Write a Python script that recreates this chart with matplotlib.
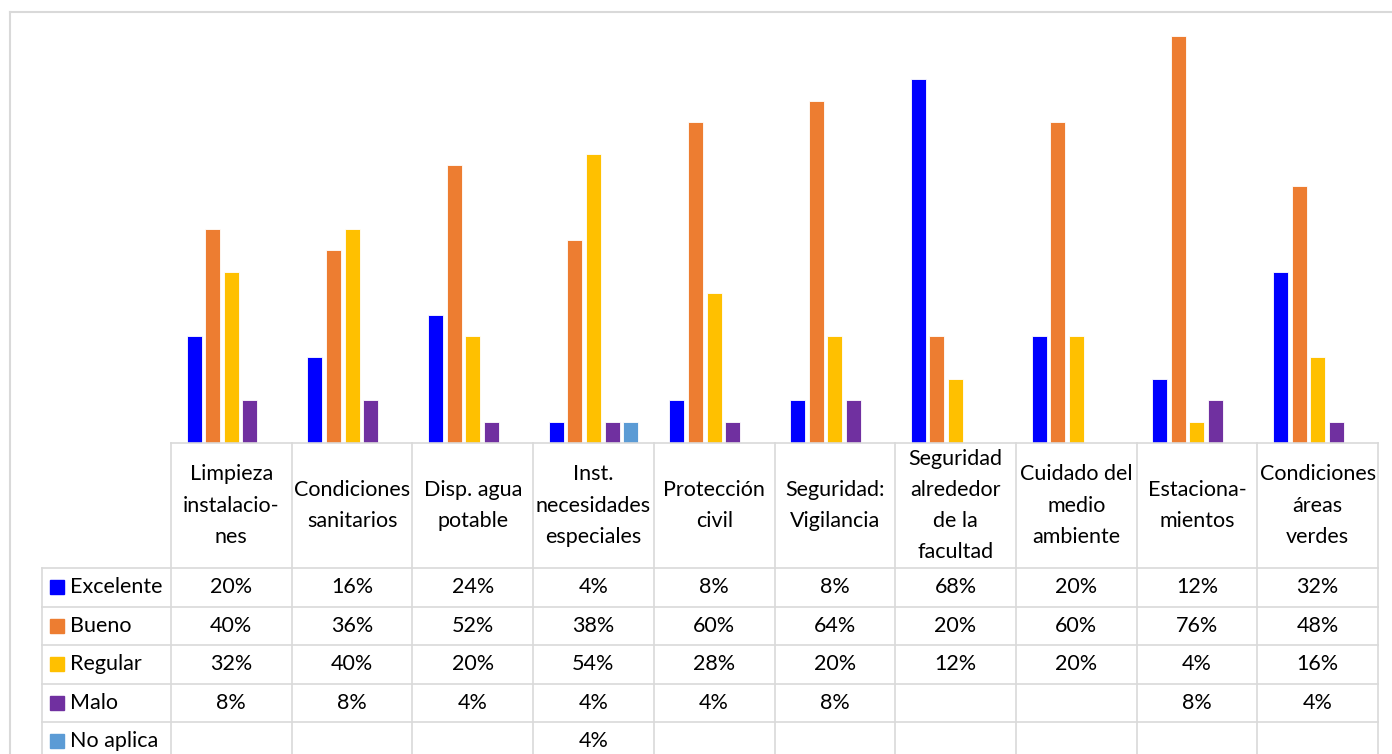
import matplotlib
matplotlib.use('Agg')
import matplotlib.pyplot as plt
from matplotlib.patches import Rectangle
from matplotlib.lines import Line2D

plt.rcParams['font.family'] = ['Lato', 'DejaVu Sans']

# categories (header of the data table)
categories = ["Limpieza\ninstalacio-\nnes", "Condiciones\nsanitarios", "Disp. agua\npotable",
              "Inst.\nnecesidades\nespeciales", "Protección\ncivil", "Seguridad:\nVigilancia",
              "Seguridad\nalrededor\nde la\nfacultad", "Cuidado del\nmedio\nambiente",
              "Estaciona-\nmientos", "Condiciones\náreas\nverdes"]

series_names = ["Excelente", "Bueno", "Regular", "Malo", "No aplica"]
excelente = [20, 16, 24, 4, 8, 8, 68, 20, 12, 32]
bueno = [40, 36, 52, 38, 60, 64, 20, 60, 76, 48]
regular = [32, 40, 20, 54, 28, 20, 12, 20, 4, 16]
malo = [8, 8, 4, 4, 4, 8, None, None, 8, 4]
no_aplica = [None, None, None, 4, None, None, None, None, None, None]
series = [excelente, bueno, regular, malo, no_aplica]
colors = ["#0000FF", "#ED7D31", "#FFC000", "#7030A0", "#5B9BD5"]

W, H = 1392, 754
grid_col = "#D9D9D9"
fig = plt.figure(figsize=(W / 100, H / 100), dpi=100)

# pixel layout
plot_left, plot_right = 171, 1378
base_y, top_y = 443, 15
label_left = 42
ncat = len(categories)
colw = (plot_right - plot_left) / ncat

# ---- bar chart ----
ax = fig.add_axes([plot_left / W, (H - base_y) / H,
                   (plot_right - plot_left) / W, (base_y - top_y) / H])
step, bw = 0.154, 0.124
for k, (vals, c) in enumerate(zip(series, colors)):
    xs = [i + (k - 2) * step for i, v in enumerate(vals) if v is not None]
    hs = [v / 100 for v in vals if v is not None]
    ax.bar(xs, hs, width=bw, color=c, edgecolor='white', linewidth=0.6)
ax.set_xlim(-0.5, ncat - 0.5)
ax.set_ylim(0, 0.80)
ax.axis('off')

# ---- data table ----
tab = fig.add_axes([label_left / W, 0, (plot_right - label_left) / W, (H - base_y) / H])
x0 = -0.5 - (plot_left - label_left) / colw
tab.set_xlim(x0, ncat - 0.5)
tab.set_ylim(H - base_y, 0)
tab.axis('off')

header_h, row_h = 125, 38.5
row_edges = [header_h + r * row_h for r in range(len(series) + 1)]
lw = 1.2

# horizontal lines
tab.plot([-0.5, ncat - 0.5], [0, 0], color=grid_col, lw=lw, clip_on=False)
for yy in row_edges:
    tab.plot([x0, ncat - 0.5], [yy, yy], color=grid_col, lw=lw, clip_on=False)
# vertical lines
for i in range(ncat + 1):
    tab.plot([i - 0.5, i - 0.5], [0, H - base_y], color=grid_col, lw=lw, clip_on=False)
tab.plot([x0, x0], [header_h, H - base_y], color=grid_col, lw=lw, clip_on=False)

fs = 15.5
for i, cat in enumerate(categories):
    tab.text(i, header_h / 2, cat, ha='center', va='center', fontsize=fs,
             linespacing=1.7, color='black')

sq = 14 / colw
for r, (name, vals, c) in enumerate(zip(series_names, series, colors)):
    yc = row_edges[r] + row_h / 2
    tab.add_patch(Rectangle((x0 + 8 / colw, yc - 7), sq, 14, color=c, clip_on=False))
    tab.text(x0 + 28 / colw, yc, name, ha='left', va='center', fontsize=fs)
    for i, v in enumerate(vals):
        if v is not None:
            tab.text(i, yc, f"{v}%", ha='center', va='center', fontsize=fs)

# outer chart frame
fig.add_artist(Line2D([10 / W, 1], [1 - 11.5 / H, 1 - 11.5 / H], color=grid_col, lw=1.5))
fig.add_artist(Line2D([10 / W, 10 / W], [0, 1 - 11.5 / H], color=grid_col, lw=1.5))

fig.savefig('out.png', dpi=100)
